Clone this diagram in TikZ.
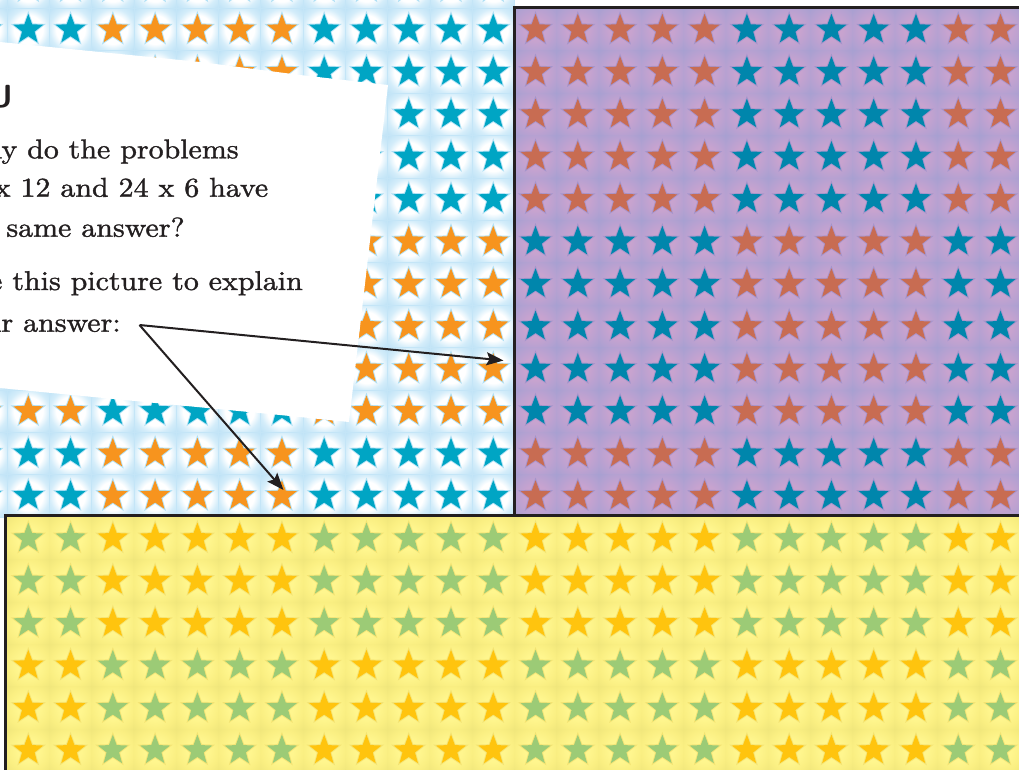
\documentclass[tikz,border=0pt]{standalone}
\usetikzlibrary{arrows.meta,shapes.geometric}
\font\cardfnt="[lmroman10-regular]:embolden=1.2" at 27.2pt
\definecolor{ink}{RGB}{35,31,32}
\definecolor{bedge}{RGB}{212,237,250}
\definecolor{bcorner}{RGB}{190,226,246}
\definecolor{bgridc}{RGB}{196,229,247}
\definecolor{pcenter}{RGB}{200,163,207}
\definecolor{pedge}{RGB}{183,161,209}
\definecolor{pcorner}{RGB}{168,160,209}
\definecolor{ycenter}{RGB}{255,246,142}
\definecolor{yedge}{RGB}{250,239,130}
\definecolor{ycorner}{RGB}{241,231,124}
\definecolor{stTeal}{RGB}{0,165,196}
\definecolor{stOrange}{RGB}{247,148,30}
\definecolor{stTerra}{RGB}{200,108,82}
\definecolor{stBlue}{RGB}{0,134,172}
\definecolor{stGreen}{RGB}{156,203,118}
\definecolor{stGold}{RGB}{255,196,14}
\definecolor{hBlue}{RGB}{110,200,238}
\definecolor{hPurple}{RGB}{140,135,200}
\definecolor{hYellow}{RGB}{236,214,96}
\pgfdeclareradialshading{bcell}{\pgfpoint{0bp}{0bp}}{color(0bp)=(white); color(17bp)=(white); color(25bp)=(bedge); color(35bp)=(bcorner); color(50bp)=(bcorner)}
\pgfdeclareradialshading{pcell}{\pgfpoint{0bp}{0bp}}{color(0bp)=(pcenter); color(13bp)=(pcenter); color(25bp)=(pedge); color(35bp)=(pcorner); color(50bp)=(pcorner)}
\pgfdeclareradialshading{ycell}{\pgfpoint{0bp}{0bp}}{color(0bp)=(ycenter); color(13bp)=(ycenter); color(25bp)=(yedge); color(35bp)=(ycorner); color(50bp)=(ycorner)}
\tikzset{
  starshape/.style={star, star points=5, star point ratio=2.4, inner sep=0pt, draw=none},
  cardtext/.style={anchor=base west, inner sep=0pt, text=ink, font=\cardfnt, xscale=1.1},
  pointer/.style={draw=ink, line width=2pt, -{Stealth[length=17pt,width=13pt,inset=3pt]}},
  border/.style={draw=ink, line width=2.7pt},
}
\newcommand\cellstar[5]{%
  \node[starshape, minimum size=37pt, fill=#4, fill opacity=0.5] at (#2,#3) {};
  \node[starshape, minimum size=31.5pt, fill=#5] (#1) at (#2,#3) {};
}
\begin{document}
\begin{tikzpicture}[x=1pt,y=-1pt]
\useasboundingbox (0,0) rectangle (1019,769);
\clip (0,0) rectangle (1019,769);
% ---------- light blue grid ----------
\foreach \c in {-1,...,11}{
  \foreach \r in {-1,...,11}{
    \pgfmathsetmacro\cx{28.3+42.27*\c}
    \pgfmathsetmacro\cy{29.6+42.4*\r}
    \shade[shading=bcell] (\cx-21.14,\cy-21.2) rectangle (\cx+21.14,\cy+21.2);
  }}
\foreach \k in {-1,...,12}{
  \draw[bgridc, line width=0.8pt] (7.2+42.27*\k,0) -- (7.2+42.27*\k,520);
  \draw[bgridc, line width=0.8pt] (0,8.4+42.4*\k) -- (520,8.4+42.4*\k);
}
\foreach \c in {-1,...,11}{
  \foreach \r in {-1,...,11}{
    \pgfmathsetmacro\cx{28.3+42.27*\c}
    \pgfmathsetmacro\cy{29.6+42.4*\r}
    \pgfmathtruncatemacro\pp{mod(floor((\c+3)/5)+floor(\r/5)+10,2)}
    \ifnum\pp=0 \def\sc{stTeal}\else\def\sc{stOrange}\fi
    \cellstar{b-\c-\r}{\cx}{\cy}{hBlue}{\sc}
  }}
% ---------- white card ----------
\fill[white] (-60,36) -- (0,42) -- (200,62) -- (300,75) -- (388,85) -- (349,422) -- (280,415) -- (0,388) -- (-60,382) -- cycle;
\node[anchor=base east, inner sep=0pt, text=ink, font=\sffamily\bfseries\fontsize{32}{32}\selectfont] (head) at (13,107) {U};
\node[cardtext] (l1) at (-45.3,158.3) {Why do the problems};
\node[cardtext] (l2) at (-45.3,196.7) {12 x 12 and 24 x 6 have};
\node[cardtext] (l3) at (-45.3,236.7) {the same answer?};
\node[cardtext] (l4) at (-45.3,290) {Use this picture to explain};
\node[cardtext] (l5) at (-45.3,331.7) {your answer:};
% ---------- purple grid ----------
\begin{scope}
\clip (514.4,7.2) rectangle (1030,516);
\fill[pcorner] (514.4,7.2) rectangle (1030,516);
\foreach \c in {12,...,23}{
  \foreach \r in {0,...,11}{
    \pgfmathsetmacro\cx{28.3+42.27*\c}
    \pgfmathsetmacro\cy{29.6+42.4*\r}
    \shade[shading=pcell] (\cx-21.14,\cy-21.2) rectangle (\cx+21.14,\cy+21.2);
  }}
\foreach \c in {12,...,23}{
  \foreach \r in {0,...,11}{
    \pgfmathsetmacro\cx{28.3+42.27*\c}
    \pgfmathsetmacro\cy{29.6+42.4*\r}
    \pgfmathtruncatemacro\pp{mod(floor((\c+3)/5)+floor(\r/5)+10,2)}
    \ifnum\pp=1 \def\sc{stTerra}\else\def\sc{stBlue}\fi
    \cellstar{p-\c-\r}{\cx}{\cy}{hPurple}{\sc}
  }}
\end{scope}
% ---------- yellow grid ----------
\begin{scope}
\clip (5.4,515.6) rectangle (1030,780);
\fill[ycorner] (5.4,515.6) rectangle (1030,780);
\foreach \c in {0,...,23}{
  \foreach \r in {12,...,17}{
    \pgfmathsetmacro\cx{28.3+42.27*\c}
    \pgfmathsetmacro\cy{29.6+42.4*\r}
    \shade[shading=ycell] (\cx-21.14,\cy-21.2) rectangle (\cx+21.14,\cy+21.2);
  }}
\foreach \c in {0,...,23}{
  \foreach \r in {12,...,17}{
    \pgfmathsetmacro\cx{28.3+42.27*\c}
    \pgfmathsetmacro\cy{29.6+42.4*\r}
    \pgfmathtruncatemacro\pp{mod(floor((\c+3)/5)+floor(\r/5)+10,2)}
    \ifnum\pp=1 \def\sc{stGold}\else\def\sc{stGreen}\fi
    \cellstar{y-\c-\r}{\cx}{\cy}{hYellow}{\sc}
  }}
\end{scope}
% ---------- borders ----------
\draw[border] (1030,7.2) -- (514.4,7.2) -- (514.4,516);
\draw[border] (1030,515.6) -- (5.4,515.6) -- (5.4,780);
% ---------- pointers ----------
\coordinate (src) at (139.5,325);
\coordinate (tgtP) at (503.5,360.5);
\coordinate (tgtB) at (283.5,490);
\draw[pointer] (src) -- (tgtP);
\draw[pointer] (src) -- (tgtB);
\end{tikzpicture}
\end{document}
